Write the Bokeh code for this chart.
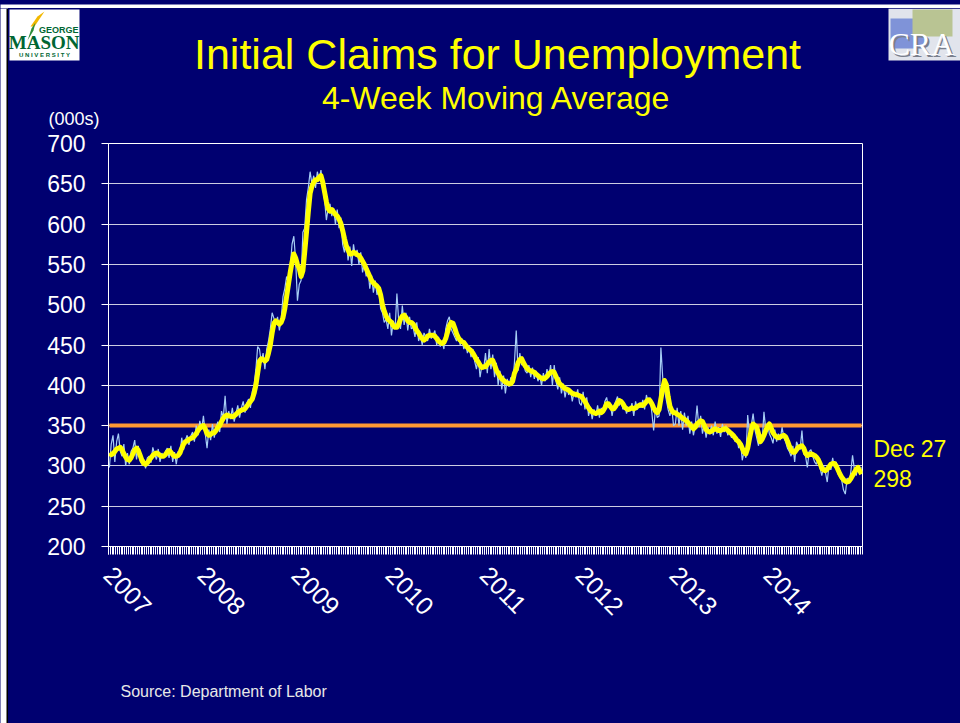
import numpy as np
import pandas as pd
from bokeh.plotting import figure
from bokeh.layouts import column, row
from bokeh.models import Range1d, FixedTicker, Label
from bokeh.embed import file_html
from bokeh.resources import INLINE

# ---------------- data (thousands of claims, weekly, week ending Sat) ----------------
START_WEEK = "2007-01-06"

ma_2007 = [316, 314, 315, 318, 321, 322, 323, 320, 315, 311, 308, 307, 310, 315, 320, 322, 319, 313, 307, 303,
           302, 304, 307, 310, 313, 315, 316, 315, 313, 312, 312, 314, 317, 319, 317, 314, 312, 312, 313, 316,
           322, 327, 330, 331, 333, 334, 335, 337, 340, 344, 347, 349]
ma_2008 = [350, 346, 340, 338, 339, 341, 341, 344, 348, 350, 355, 359, 362, 363, 362, 362, 361, 362, 364, 366,
           368, 369, 370, 371, 374, 377, 380, 383, 390, 400, 415, 430, 433, 432, 430, 432, 440, 450, 465, 477,
           480, 478, 476, 478, 484, 495, 510, 525, 540, 553, 563, 558]
ma_2009 = [550, 545, 535, 542, 565, 590, 615, 638, 647, 652, 655, 655, 658, 660, 652, 640, 628, 619, 616, 618,
           615, 612, 610, 606, 601, 592, 582, 573, 568, 563, 563, 565, 564, 562, 561, 558, 554, 550, 545, 540,
           535, 530, 527, 525, 523, 520, 512, 500, 492, 486, 482, 480]
ma_2010 = [478, 474, 472, 472, 476, 482, 486, 487, 484, 480, 478, 478, 476, 472, 468, 465, 461, 458, 456, 458,
           461, 462, 462, 462, 461, 458, 455, 453, 452, 453, 458, 466, 474, 478, 477, 471, 464, 459, 456, 454,
           453, 450, 447, 445, 443, 440, 436, 432, 429, 425, 422, 423]
ma_2011 = [423, 426, 429, 431, 431, 425, 419, 415, 411, 408, 406, 404, 403, 402, 402, 405, 415, 420, 428, 432,
           433, 428, 424, 421, 419, 418, 417, 416, 414, 412, 410, 409, 408, 409, 411, 414, 416, 417, 416, 411,
           406, 402, 400, 398, 396, 395, 394, 392, 390, 389, 389, 388, 387]
ma_2012 = [386, 383, 380, 376, 372, 369, 367, 366, 365, 366, 368, 366, 368, 372, 377, 377, 374, 371, 371, 374,
           378, 381, 380, 377, 373, 371, 370, 371, 372, 371, 372, 374, 375, 376, 375, 377, 380, 382, 381, 377,
           372, 368, 366, 370, 383, 396, 406, 401, 386, 374, 369, 366]
ma_2013 = [366, 364, 363, 361, 359, 358, 356, 354, 351, 349, 346, 348, 352, 354, 356, 355, 350, 345, 343, 342,
           343, 345, 346, 345, 344, 344, 345, 346, 346, 344, 342, 340, 338, 335, 332, 330, 327, 322, 317, 315,
           322, 334, 345, 352, 350, 348, 340, 330, 333, 338, 344, 349]
ma_2014 = [352, 347, 341, 338, 336, 335, 336, 337, 338, 336, 331, 325, 320, 317, 317, 320, 323, 324, 325, 322,
           316, 313, 314, 315, 314, 313, 311, 308, 303, 297, 295, 294, 296, 299, 302, 303, 303, 300, 295, 290,
           286, 283, 281, 280, 281, 284, 288, 292, 296, 298, 294, 290]

raw_2007 = [298, 327, 338, 305, 330, 340, 318, 312, 327, 300, 316, 302, 318, 322, 332, 308, 325, 306, 302, 308,
            297, 310, 312, 304, 323, 315, 308, 321, 305, 316, 311, 318, 322, 310, 325, 305, 317, 302, 318, 314,
            335, 320, 332, 338, 326, 337, 342, 330, 350, 338, 356, 345]
raw_2008 = [362, 340, 322, 345, 332, 352, 335, 348, 355, 342, 368, 360, 387, 352, 368, 358, 372, 355, 365, 375,
            360, 372, 380, 366, 378, 383, 372, 392, 400, 420, 448, 445, 428, 440, 420, 445, 455, 470, 490, 483,
            475, 485, 468, 482, 510, 520, 535, 528, 545, 575, 585, 555]
raw_2009 = [505, 525, 530, 590, 595, 630, 645, 665, 650, 660, 645, 665, 655, 667, 645, 630, 605, 620, 625, 610,
            620, 600, 618, 595, 608, 575, 565, 580, 555, 572, 548, 575, 560, 568, 550, 565, 540, 552, 535, 545,
            520, 536, 515, 530, 512, 520, 495, 490, 478, 482, 470, 490]
raw_2010 = [462, 480, 470, 514, 480, 470, 499, 475, 490, 468, 485, 470, 472, 460, 478, 455, 462, 450, 465, 460,
            455, 470, 458, 462, 468, 450, 460, 448, 455, 445, 470, 480, 485, 470, 465, 460, 455, 462, 450, 458,
            445, 452, 440, 448, 435, 445, 430, 420, 435, 410, 425, 420]
raw_2011 = [440, 415, 445, 420, 438, 410, 428, 400, 418, 395, 412, 390, 408, 398, 410, 402, 428, 468, 418, 440,
            425, 430, 418, 415, 425, 410, 422, 408, 418, 405, 412, 400, 415, 405, 420, 410, 425, 400, 425, 405,
            395, 410, 390, 402, 385, 398, 388, 395, 380, 392, 385, 395, 378]
raw_2012 = [375, 392, 370, 385, 362, 372, 358, 370, 362, 375, 360, 372, 365, 380, 385, 372, 378, 362, 375, 380,
            386, 375, 382, 370, 376, 365, 372, 368, 378, 362, 380, 370, 378, 372, 382, 370, 388, 378, 385, 366,
            344, 372, 360, 362, 447, 410, 395, 382, 370, 362, 372, 350]
raw_2013 = [352, 372, 350, 368, 345, 366, 350, 362, 340, 355, 338, 350, 375, 348, 362, 340, 352, 335, 348, 340,
            350, 338, 355, 340, 348, 336, 352, 342, 350, 338, 345, 335, 340, 330, 336, 322, 330, 307, 318, 310,
            363, 340, 350, 365, 345, 335, 325, 340, 330, 367, 345, 352]
raw_2014 = [340, 335, 328, 345, 330, 340, 332, 348, 335, 330, 322, 318, 312, 325, 305, 330, 325, 320, 344, 315,
            312, 298, 318, 320, 312, 305, 302, 310, 298, 288, 300, 292, 280, 302, 295, 310, 298, 305, 290, 286,
            282, 270, 265, 285, 278, 292, 313, 296, 288, 300, 295, 298]

years = ["2007", "2008", "2009", "2010", "2011", "2012", "2013", "2014"]
y_ticks = [200, 250, 300, 350, 400, 450, 500, 550, 600, 650, 700]
threshold = 350
last_date_label = "Dec 27"
last_value_label = "298"

# ---------------- assemble ----------------
ma = ma_2007 + ma_2008 + ma_2009 + ma_2010 + ma_2011 + ma_2012 + ma_2013 + ma_2014
raw = raw_2007 + raw_2008 + raw_2009 + raw_2010 + raw_2011 + raw_2012 + raw_2013 + raw_2014
n = len(ma)
dates = pd.date_range(START_WEEK, periods=n, freq="7D")
x = np.arange(n) + 0.5
year_idx = [int(np.argmax(np.asarray(dates.year) == int(y))) for y in years]

NAVY = "#000070"
YELLOW = "#FFFF00"
FONT = "Liberation Sans"
PAGE_W, PAGE_H = 960, 723
EDGE = 8                      # white page edge + black slide border (top/left)
TOP_Y1 = 132                  # header spans page y EDGE..TOP_Y1
MAIN_Y1 = 660                 # chart row spans TOP_Y1..MAIN_Y1, footer MAIN_Y1..PAGE_H
MAIN_X1 = 864                 # chart spans EDGE..MAIN_X1, side panel MAIN_X1..PAGE_W
B_TOP, B_BOT, B_LEFT, B_RIGHT = 11, 114, 100, 2
MAIN_H = MAIN_Y1 - TOP_Y1
FRAME_H = MAIN_H - B_TOP - B_BOT
K_BASE = 0.35                 # baseline correction (fraction of font size)


def blank(x0, x1, y0, y1, y_range=None, **kw):
    """A bare panel whose data coordinates are page pixels."""
    f = figure(width=x1 - x0, height=y1 - y0, title=None,
               x_range=Range1d(x0, x1), y_range=y_range or Range1d(y1, y0),
               output_backend="svg", toolbar_location=None, x_axis_type=None, y_axis_type=None,
               background_fill_color=NAVY, border_fill_color=NAVY, min_border=0, **kw)
    f.grid.visible = False
    f.outline_line_color = None
    return f


def label(f, x0, base_y, text, size, color, align="left", font=FONT, style="normal", to_y=None):
    y_pos = base_y - K_BASE * size
    if to_y is not None:
        y_pos = to_y(y_pos)
    f.add_layout(Label(x=x0, y=y_pos, text=text, text_font=font, text_font_size=f"{size}px",
                       text_color=color, text_align=align, text_baseline="alphabetic",
                       text_font_style=style))


# ---------------- page edge strips ----------------
edge_top = blank(0, PAGE_W, 0, EDGE)
edge_top.background_fill_color = "white"
edge_top.border_fill_color = "white"
edge_top.quad(left=[6], right=[PAGE_W], top=[6], bottom=[EDGE], fill_color="black", line_color=None)
edge_left = blank(0, EDGE, EDGE, PAGE_H)
edge_left.background_fill_color = "white"
edge_left.border_fill_color = "white"
edge_left.quad(left=[6], right=[EDGE], top=[EDGE], bottom=[PAGE_H], fill_color="black", line_color=None)

# ---------------- header (title, subtitle, logos, unit) ----------------
top = blank(EDGE, PAGE_W, EDGE, TOP_Y1)
label(top, 497, 69, "Initial Claims for Unemployment", 43, YELLOW, "center")
label(top, 496, 109, "4-Week Moving Average", 32, YELLOW, "center")
label(top, 48, 125, "(000s)", 18, "white")
# George Mason logo (approximation)
top.quad(left=[9], right=[79], top=[9], bottom=[60], fill_color="white", line_color=None)
top.patch([30, 37, 44, 40, 34], [26, 16, 11, 17, 26], fill_color="#F2B800", line_color=None)
top.patch([27, 31, 35, 33], [40, 28, 22, 30], fill_color="#2E8B3A", line_color=None)
label(top, 78, 33, "GEORGE", 9, "#006633", "right", style="bold")
label(top, 79, 49, "MASON", 19, "#006633", "right", font="Liberation Serif", style="bold")
label(top, 44, 57, "U N I V E R S I T Y", 6, "#006633", "center", style="bold")
# CRA logo (approximation)
top.quad(left=[888], right=[960], top=[8], bottom=[60], fill_color="#E1E4EC", line_color=None)
top.quad(left=[890], right=[925], top=[18], bottom=[48], fill_color="#7F93D8", line_color=None)
top.quad(left=[912], right=[952], top=[9], bottom=[36], fill_color="#B9C493", line_color=None)
label(top, 890, 57, "CRA", 32, "#7A7F8C", font="Liberation Serif")
label(top, 888, 55, "CRA", 32, "white", font="Liberation Serif")

# ---------------- main chart ----------------
p = figure(width=MAIN_X1 - EDGE, height=MAIN_H, title=None, x_range=Range1d(0, n), y_range=Range1d(200, 700),
           output_backend="svg", toolbar_location=None,
           background_fill_color=NAVY, border_fill_color=NAVY,
           min_border_left=B_LEFT, min_border_right=B_RIGHT, min_border_top=B_TOP, min_border_bottom=B_BOT)

xa = p.xaxis[0]
xa.ticker = FixedTicker(ticks=year_idx, minor_ticks=list(range(n + 1)))
xa.major_label_overrides = {i: y for i, y in zip(year_idx, years)}
xa.major_label_orientation = -0.8
xa.major_label_text_font = FONT
xa.major_label_text_font_size = "25px"
xa.major_label_text_color = "white"
xa.major_label_standoff = 16
xa.axis_line_color = "white"
xa.major_tick_line_color = "white"
xa.minor_tick_line_color = "white"
xa.major_tick_out = 8
xa.major_tick_in = 0
xa.minor_tick_out = 8
xa.minor_tick_in = 0

ya = p.yaxis[0]
ya.ticker = FixedTicker(ticks=y_ticks)
ya.major_label_text_font = FONT
ya.major_label_text_font_size = "23px"
ya.major_label_text_color = "white"
ya.major_label_standoff = 16
ya.axis_line_color = "white"
ya.major_tick_line_color = "white"
ya.major_tick_out = 7
ya.major_tick_in = 0
ya.minor_tick_line_color = None

p.xgrid.visible = False
p.ygrid.ticker = FixedTicker(ticks=y_ticks)
p.ygrid.grid_line_color = "white"
p.ygrid.grid_line_alpha = 0.8
p.outline_line_color = "white"
p.outline_line_width = 1

p.line([x[0], x[-1]], [threshold, threshold], line_color="#FF9933", line_width=4)
p.line(x, raw, line_color="#A6CEF5", line_width=1.2)
p.line(x, ma, line_color=YELLOW, line_width=5, line_join="round")


# ---------------- right side (last value), same vertical scale as the chart ----------------
def val_at(page_y):
    return 700 - (page_y - TOP_Y1 - B_TOP) * 500 / FRAME_H


side = figure(width=PAGE_W - MAIN_X1, height=MAIN_H, title=None, x_range=Range1d(MAIN_X1, PAGE_W),
              y_range=p.y_range, output_backend="svg", toolbar_location=None,
              x_axis_type=None, y_axis_type=None,
              background_fill_color=NAVY, border_fill_color=NAVY,
              min_border_left=0, min_border_right=0, min_border_top=B_TOP, min_border_bottom=B_BOT)
side.grid.visible = False
side.outline_line_color = None
label(side, 873, 457, last_date_label, 23, YELLOW, to_y=val_at)
label(side, 873, 486, last_value_label, 23, YELLOW, to_y=val_at)

# ---------------- footer (source) ----------------
bottom = blank(EDGE, PAGE_W, MAIN_Y1, PAGE_H)
label(bottom, 120, 697, "Source: Department of Labor", 16, "#E8E8E8")

inner = column(top, row(p, side), bottom)
page = column(edge_top, row(edge_left, inner))
page.styles = {"background-color": NAVY}

open("out.html", "w").write(file_html(page, INLINE))
